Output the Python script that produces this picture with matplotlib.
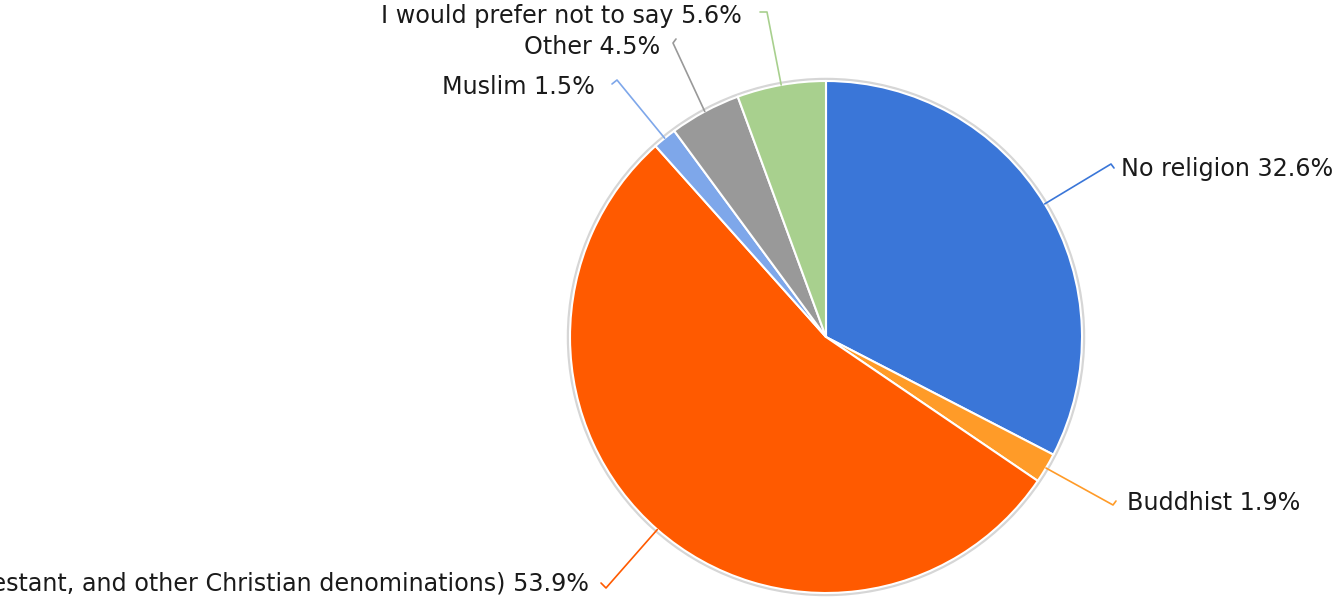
import numpy as np
import matplotlib.pyplot as plt
from matplotlib.patches import Circle

W, H = 1338, 597

labels = ['No religion', 'Buddhist',
          'Christian (Catholic, Protestant, and other Christian denominations)',
          'Muslim', 'Other', 'I would prefer not to say']
values = [32.6, 1.9, 53.9, 1.5, 4.5, 5.6]
colors = ['#3a76d8', '#ff9b28', '#ff5a00', '#7ea7ea', '#999999', '#a8d08e']

# label layout in pixels: elbow point, hook end, text anchor, alignment
elbows = [(1111, 164), (1113, 505), (606, 588), (617, 80), (673, 43), (767, 12)]
hooks = [(1114, 168), (1116, 501), (601, 583), (612, 84), (676, 39), (760, 12)]
texts = [(1121, 169), (1127, 503), (589, 583), (595, 87), (660, 47), (742, 16)]
aligns = ['left', 'left', 'right', 'right', 'right', 'right']

cx, cy, r = 826, 337, 256

fig = plt.figure(figsize=(W / 100, H / 100), dpi=100)
ax = fig.add_axes([0, 0, 1, 1])


def py(y):
    return H - y


# faint shadow rim
ax.add_patch(Circle((cx, py(cy)), r + 1.5, facecolor='none',
                    edgecolor='#d6d6d6', lw=2.5, zorder=1))

ax.pie(values, colors=colors, startangle=90, counterclock=False,
       center=(cx, py(cy)), radius=r,
       wedgeprops=dict(edgecolor='white', linewidth=1.5), frame=True)
ax.set_xlim(0, W)
ax.set_ylim(0, H)
ax.set_aspect('equal')
ax.axis('off')

start = 90
for i, v in enumerate(values):
    mid = np.radians(start - v * 3.6 / 2)
    start -= v * 3.6
    ex, ey = cx + r * np.cos(mid), cy - r * np.sin(mid)
    bx, by = elbows[i]
    hx, hy = hooks[i]
    ax.plot([ex, bx, hx], [py(ey), py(by), py(hy)], color=colors[i],
            lw=1.2, zorder=3, solid_capstyle='round')
    tx, ty = texts[i]
    ax.text(tx, py(ty), f'{labels[i]} {v}%', ha=aligns[i], va='center',
            fontsize=17.2, color='#1a1a1a', family='DejaVu Sans')

fig.savefig('out.png', dpi=100)
